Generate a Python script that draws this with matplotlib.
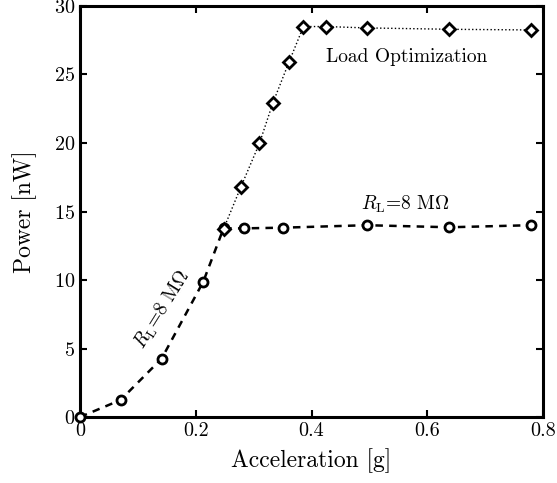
import matplotlib
matplotlib.use('Agg')
import matplotlib.pyplot as plt

plt.rcParams['font.family'] = 'serif'
plt.rcParams['font.serif'] = ['cmr10']
plt.rcParams['mathtext.fontset'] = 'cm'
plt.rcParams['axes.unicode_minus'] = False
plt.rcParams['axes.formatter.use_mathtext'] = True

# fixed load R_L = 8 MOhm
accel_fixed = [0.0, 0.070, 0.141, 0.213, 0.248, 0.283, 0.351, 0.495, 0.638, 0.779]
power_fixed = [0.0, 1.24, 4.26, 9.88, 13.77, 13.77, 13.82, 14.0, 13.85, 14.0]

# load optimization
accel_opt = [0.248, 0.278, 0.310, 0.333, 0.361, 0.386, 0.425, 0.495, 0.638, 0.779]
power_opt = [13.72, 16.8, 19.97, 22.9, 25.9, 28.5, 28.5, 28.4, 28.3, 28.25]

xticks = [0, 0.2, 0.4, 0.6, 0.8]
xticklabels = ['0', '0.2', '0.4', '0.6', '0.8']
yticks = [0, 5, 10, 15, 20, 25, 30]

fig = plt.figure(figsize=(5.57, 4.83), dpi=100)
ax = fig.add_axes([0.1436, 0.1366, 0.8314, 0.851])

ax.plot(accel_opt, power_opt, color='black', linestyle=':', linewidth=1.0,
        marker='D', markersize=6, markerfacecolor='white',
        markeredgecolor='black', markeredgewidth=2.0, zorder=4, clip_on=False)
ax.plot(accel_fixed, power_fixed, color='black', linestyle='--', linewidth=1.8,
        dashes=(3, 2.5), marker='o', markersize=6.5, markerfacecolor='white',
        markeredgecolor='black', markeredgewidth=2.0, zorder=3, clip_on=False)

ax.text(0.564, 26.3, 'Load Optimization', fontsize=14, ha='center', va='center')
ax.text(0.562, 15.5, r'$R_{\mathrm{L}}$=8 M$\Omega$', fontsize=14,
        ha='center', va='center')
ax.text(0.143, 7.8, r'$R_{\mathrm{L}}$=8 M$\Omega$', fontsize=14,
        ha='center', va='center', rotation=58, rotation_mode='anchor')

ax.set_xlim(0, 0.8)
ax.set_ylim(0, 30)
ax.set_xticks(xticks)
ax.set_xticklabels(xticklabels)
ax.set_yticks(yticks)
ax.tick_params(direction='in', top=True, right=True, length=5, width=1.5,
               labelsize=14.5, pad=3.5)
for s in ax.spines.values():
    s.set_linewidth(2.2)

ax.set_xlabel('Acceleration [g]', fontsize=17, labelpad=6)
ax.set_ylabel('Power [nW]', fontsize=17, labelpad=12)

fig.savefig('out.png', dpi=100)
